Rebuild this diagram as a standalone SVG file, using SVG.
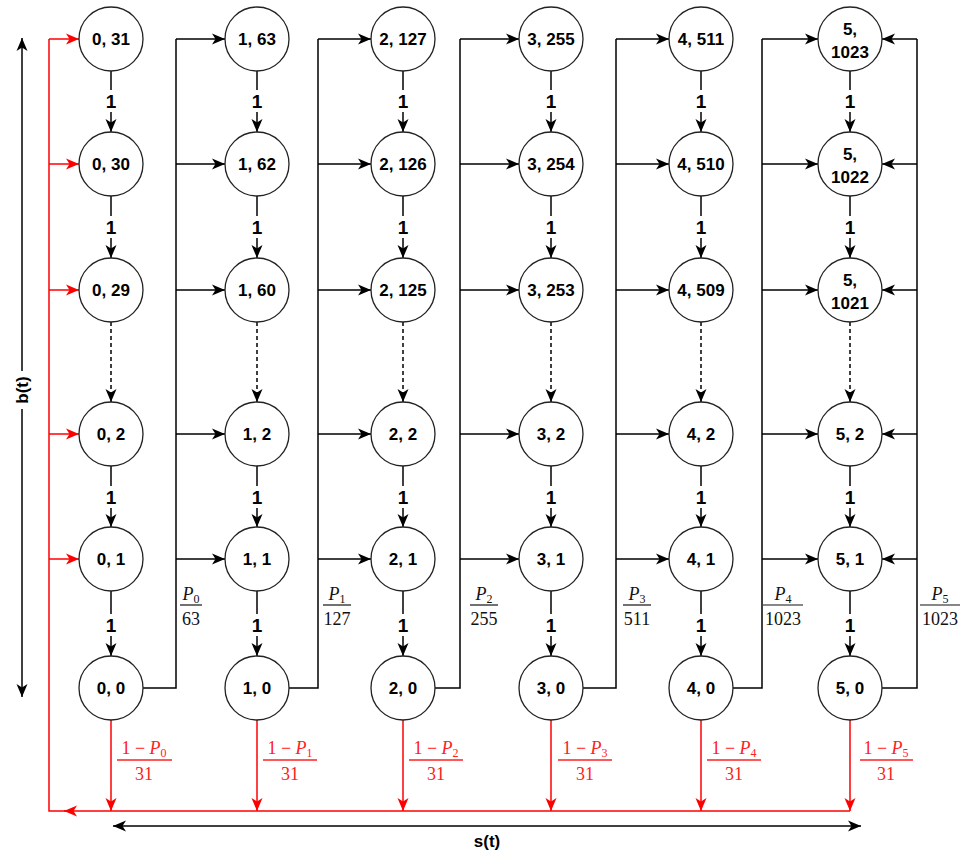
<svg xmlns="http://www.w3.org/2000/svg" width="961" height="854" viewBox="0 0 961 854">
<defs>
<marker id="ab" markerUnits="userSpaceOnUse" markerWidth="14" markerHeight="12" viewBox="0 0 14 12" refX="13" refY="6" orient="auto"><path d="M0,0.5 L13,6 L0,11.5 L3.5,6 Z" fill="#000"/></marker>
<marker id="ar" markerUnits="userSpaceOnUse" markerWidth="14" markerHeight="12" viewBox="0 0 14 12" refX="13" refY="6" orient="auto"><path d="M0,0.5 L13,6 L0,11.5 L3.5,6 Z" fill="#ff0000"/></marker>
<marker id="abs" markerUnits="userSpaceOnUse" markerWidth="14" markerHeight="12" viewBox="0 0 14 12" refX="1" refY="6" orient="auto"><path d="M14,0.5 L1,6 L14,11.5 L10.5,6 Z" fill="#000"/></marker>
</defs>
<style>
.c{fill:#fff;stroke:#222;stroke-width:1.3}
.t{font-family:"Liberation Sans",Arial,sans-serif;font-weight:bold;font-size:17px;fill:#000;text-anchor:middle}
.one{font-family:"Liberation Sans",Arial,sans-serif;font-weight:bold;font-size:19px;fill:#000;text-anchor:middle}
.e{fill:none;stroke:#000;stroke-width:1.5}
.ea{fill:none;stroke:#000;stroke-width:1.5;marker-end:url(#ab)}
.ed{fill:none;stroke:#000;stroke-width:1.5;stroke-dasharray:4 3;marker-end:url(#ab)}
.r{fill:none;stroke:#ff0000;stroke-width:1.5}
.ra{fill:none;stroke:#ff0000;stroke-width:1.5;marker-end:url(#ar)}
.f{font-family:"Liberation Serif","Times New Roman",serif;font-size:18px;fill:#111;text-anchor:middle}
.fr{font-family:"Liberation Serif","Times New Roman",serif;font-size:18px;fill:#ff2020;text-anchor:middle}
.bar{stroke:#111;stroke-width:1.2}
.barr{stroke:#ff2020;stroke-width:1.5}
.ax{font-family:"Liberation Sans",Arial,sans-serif;font-weight:bold;font-size:17px;fill:#000;text-anchor:middle}
</style>

<g id="connectors">
<!-- vertical edges within columns -->
<g id="vertical-edges">
<path class="ea" d="M111,71 V132"/><path class="ea" d="M111,196 V258"/><path class="ed" d="M111,322 V402"/><path class="ea" d="M111,466 V527"/><path class="ea" d="M111,591 V656"/>
<path class="ea" d="M257,71 V132"/><path class="ea" d="M257,196 V258"/><path class="ed" d="M257,322 V402"/><path class="ea" d="M257,466 V527"/><path class="ea" d="M257,591 V656"/>
<path class="ea" d="M403,71 V132"/><path class="ea" d="M403,196 V258"/><path class="ed" d="M403,322 V402"/><path class="ea" d="M403,466 V527"/><path class="ea" d="M403,591 V656"/>
<path class="ea" d="M551,71 V132"/><path class="ea" d="M551,196 V258"/><path class="ed" d="M551,322 V402"/><path class="ea" d="M551,466 V527"/><path class="ea" d="M551,591 V656"/>
<path class="ea" d="M701,71 V132"/><path class="ea" d="M701,196 V258"/><path class="ed" d="M701,322 V402"/><path class="ea" d="M701,466 V527"/><path class="ea" d="M701,591 V656"/>
<path class="ea" d="M850,71 V132"/><path class="ea" d="M850,196 V258"/><path class="ed" d="M850,322 V402"/><path class="ea" d="M850,466 V527"/><path class="ea" d="M850,591 V656"/>
</g>
<g id="one-labels">
<rect x="102" y="90" width="18" height="22" fill="#fff"/><text class="one" x="111" y="108">1</text>
<rect x="102" y="216" width="18" height="22" fill="#fff"/><text class="one" x="111" y="234">1</text>
<rect x="102" y="486" width="18" height="22" fill="#fff"/><text class="one" x="111" y="504">1</text>
<rect x="102" y="614" width="18" height="22" fill="#fff"/><text class="one" x="111" y="632">1</text>
<rect x="248" y="90" width="18" height="22" fill="#fff"/><text class="one" x="257" y="108">1</text>
<rect x="248" y="216" width="18" height="22" fill="#fff"/><text class="one" x="257" y="234">1</text>
<rect x="248" y="486" width="18" height="22" fill="#fff"/><text class="one" x="257" y="504">1</text>
<rect x="248" y="614" width="18" height="22" fill="#fff"/><text class="one" x="257" y="632">1</text>
<rect x="394" y="90" width="18" height="22" fill="#fff"/><text class="one" x="403" y="108">1</text>
<rect x="394" y="216" width="18" height="22" fill="#fff"/><text class="one" x="403" y="234">1</text>
<rect x="394" y="486" width="18" height="22" fill="#fff"/><text class="one" x="403" y="504">1</text>
<rect x="394" y="614" width="18" height="22" fill="#fff"/><text class="one" x="403" y="632">1</text>
<rect x="542" y="90" width="18" height="22" fill="#fff"/><text class="one" x="551" y="108">1</text>
<rect x="542" y="216" width="18" height="22" fill="#fff"/><text class="one" x="551" y="234">1</text>
<rect x="542" y="486" width="18" height="22" fill="#fff"/><text class="one" x="551" y="504">1</text>
<rect x="542" y="614" width="18" height="22" fill="#fff"/><text class="one" x="551" y="632">1</text>
<rect x="692" y="90" width="18" height="22" fill="#fff"/><text class="one" x="701" y="108">1</text>
<rect x="692" y="216" width="18" height="22" fill="#fff"/><text class="one" x="701" y="234">1</text>
<rect x="692" y="486" width="18" height="22" fill="#fff"/><text class="one" x="701" y="504">1</text>
<rect x="692" y="614" width="18" height="22" fill="#fff"/><text class="one" x="701" y="632">1</text>
<rect x="841" y="90" width="18" height="22" fill="#fff"/><text class="one" x="850" y="108">1</text>
<rect x="841" y="216" width="18" height="22" fill="#fff"/><text class="one" x="850" y="234">1</text>
<rect x="841" y="486" width="18" height="22" fill="#fff"/><text class="one" x="850" y="504">1</text>
<rect x="841" y="614" width="18" height="22" fill="#fff"/><text class="one" x="850" y="632">1</text>
</g>

<!-- success buses -->
<g id="bus-edges">
<path class="e" d="M143,688 H176 V39"/>
<path class="ea" d="M176,39 H225"/><path class="ea" d="M176,164 H225"/><path class="ea" d="M176,290 H225"/><path class="ea" d="M176,434 H225"/><path class="ea" d="M176,559 H225"/>
<path class="e" d="M289,688 H318 V39"/>
<path class="ea" d="M318,39 H371"/><path class="ea" d="M318,164 H371"/><path class="ea" d="M318,290 H371"/><path class="ea" d="M318,434 H371"/><path class="ea" d="M318,559 H371"/>
<path class="e" d="M435,688 H460 V39"/>
<path class="ea" d="M460,39 H519"/><path class="ea" d="M460,164 H519"/><path class="ea" d="M460,290 H519"/><path class="ea" d="M460,434 H519"/><path class="ea" d="M460,559 H519"/>
<path class="e" d="M583,688 H616 V39"/>
<path class="ea" d="M616,39 H669"/><path class="ea" d="M616,164 H669"/><path class="ea" d="M616,290 H669"/><path class="ea" d="M616,434 H669"/><path class="ea" d="M616,559 H669"/>
<path class="e" d="M733,688 H762 V39"/>
<path class="ea" d="M762,39 H818"/><path class="ea" d="M762,164 H818"/><path class="ea" d="M762,290 H818"/><path class="ea" d="M762,434 H818"/><path class="ea" d="M762,559 H818"/>
<path class="e" d="M882,688 H917 V39"/>
<path class="ea" d="M917,39 H882"/><path class="ea" d="M917,164 H882"/><path class="ea" d="M917,290 H882"/><path class="ea" d="M917,434 H882"/><path class="ea" d="M917,559 H882"/>
</g>

<!-- failure (red) -->
<g id="red-edges">
<path class="ra" d="M111,720 V811"/><path class="ra" d="M257,720 V811"/><path class="ra" d="M403,720 V811"/><path class="ra" d="M551,720 V811"/><path class="ra" d="M701,720 V811"/><path class="ra" d="M850,720 V811"/>
<path class="ra" d="M850,811 H64"/>
<path class="r" d="M66,811 H49 V39"/>
<path class="ra" d="M49,39 H79"/><path class="ra" d="M49,164 H79"/><path class="ra" d="M49,290 H79"/><path class="ra" d="M49,434 H79"/><path class="ra" d="M49,559 H79"/>
</g>

<!-- probability labels -->
<g id="prob-labels">
<text class="f" x="191" y="600"><tspan font-style="italic">P</tspan><tspan font-size="12" dy="3">0</tspan></text>
<line class="bar" x1="180" y1="605" x2="202" y2="605"/>
<text class="f" x="191" y="625">63</text>
<text class="f" x="337" y="600"><tspan font-style="italic">P</tspan><tspan font-size="12" dy="3">1</tspan></text>
<line class="bar" x1="323" y1="605" x2="351" y2="605"/>
<text class="f" x="337" y="625">127</text>
<text class="f" x="484" y="600"><tspan font-style="italic">P</tspan><tspan font-size="12" dy="3">2</tspan></text>
<line class="bar" x1="470" y1="605" x2="498" y2="605"/>
<text class="f" x="484" y="625">255</text>
<text class="f" x="637" y="600"><tspan font-style="italic">P</tspan><tspan font-size="12" dy="3">3</tspan></text>
<line class="bar" x1="623" y1="605" x2="651" y2="605"/>
<text class="f" x="637" y="625">511</text>
<text class="f" x="783" y="600"><tspan font-style="italic">P</tspan><tspan font-size="12" dy="3">4</tspan></text>
<line class="bar" x1="763" y1="605" x2="803" y2="605"/>
<text class="f" x="783" y="625">1023</text>
<text class="f" x="940" y="600"><tspan font-style="italic">P</tspan><tspan font-size="12" dy="3">5</tspan></text>
<line class="bar" x1="920" y1="605" x2="960" y2="605"/>
<text class="f" x="940" y="625">1023</text>

<text class="fr" x="144" y="754">1 − <tspan font-style="italic">P</tspan><tspan font-size="12" dy="3">0</tspan></text>
<line class="barr" x1="117" y1="760" x2="172" y2="760"/>
<text class="fr" x="144" y="780">31</text>
<text class="fr" x="290" y="754">1 − <tspan font-style="italic">P</tspan><tspan font-size="12" dy="3">1</tspan></text>
<line class="barr" x1="263" y1="760" x2="317" y2="760"/>
<text class="fr" x="290" y="780">31</text>
<text class="fr" x="436" y="754">1 − <tspan font-style="italic">P</tspan><tspan font-size="12" dy="3">2</tspan></text>
<line class="barr" x1="409" y1="760" x2="463" y2="760"/>
<text class="fr" x="436" y="780">31</text>
<text class="fr" x="585" y="754">1 − <tspan font-style="italic">P</tspan><tspan font-size="12" dy="3">3</tspan></text>
<line class="barr" x1="558" y1="760" x2="612" y2="760"/>
<text class="fr" x="585" y="780">31</text>
<text class="fr" x="734" y="754">1 − <tspan font-style="italic">P</tspan><tspan font-size="12" dy="3">4</tspan></text>
<line class="barr" x1="707" y1="760" x2="761" y2="760"/>
<text class="fr" x="734" y="780">31</text>
<text class="fr" x="886" y="754">1 − <tspan font-style="italic">P</tspan><tspan font-size="12" dy="3">5</tspan></text>
<line class="barr" x1="860" y1="760" x2="913" y2="760"/>
<text class="fr" x="886" y="780">31</text>
</g>

<!-- axes -->
<g id="axes">
<path class="e" d="M22,38 V697" marker-start="url(#abs)" marker-end="url(#ab)"/>
<rect x="12" y="371" width="20" height="38" fill="#fff"/>
<text class="ax" transform="translate(28,390) rotate(-90)">b(t)</text>
<path class="e" d="M113,826 H861" marker-start="url(#abs)" marker-end="url(#ab)"/>
<text class="ax" x="487" y="847">s(t)</text>
</g>
</g>

<!-- nodes -->
<g id="n0_31"><circle class="c" cx="111" cy="39" r="32"/><text class="t" x="111" y="45">0, 31</text></g>
<g id="n0_30"><circle class="c" cx="111" cy="164" r="32"/><text class="t" x="111" y="170">0, 30</text></g>
<g id="n0_29"><circle class="c" cx="111" cy="290" r="32"/><text class="t" x="111" y="296">0, 29</text></g>
<g id="n0_2"><circle class="c" cx="111" cy="434" r="32"/><text class="t" x="111" y="440">0, 2</text></g>
<g id="n0_1"><circle class="c" cx="111" cy="559" r="32"/><text class="t" x="111" y="565">0, 1</text></g>
<g id="n0_0"><circle class="c" cx="111" cy="688" r="32"/><text class="t" x="111" y="694">0, 0</text></g>

<g id="n1_63"><circle class="c" cx="257" cy="39" r="32"/><text class="t" x="257" y="45">1, 63</text></g>
<g id="n1_62"><circle class="c" cx="257" cy="164" r="32"/><text class="t" x="257" y="170">1, 62</text></g>
<g id="n1_60"><circle class="c" cx="257" cy="290" r="32"/><text class="t" x="257" y="296">1, 60</text></g>
<g id="n1_2"><circle class="c" cx="257" cy="434" r="32"/><text class="t" x="257" y="440">1, 2</text></g>
<g id="n1_1"><circle class="c" cx="257" cy="559" r="32"/><text class="t" x="257" y="565">1, 1</text></g>
<g id="n1_0"><circle class="c" cx="257" cy="688" r="32"/><text class="t" x="257" y="694">1, 0</text></g>

<g id="n2_127"><circle class="c" cx="403" cy="39" r="32"/><text class="t" x="403" y="45">2, 127</text></g>
<g id="n2_126"><circle class="c" cx="403" cy="164" r="32"/><text class="t" x="403" y="170">2, 126</text></g>
<g id="n2_125"><circle class="c" cx="403" cy="290" r="32"/><text class="t" x="403" y="296">2, 125</text></g>
<g id="n2_2"><circle class="c" cx="403" cy="434" r="32"/><text class="t" x="403" y="440">2, 2</text></g>
<g id="n2_1"><circle class="c" cx="403" cy="559" r="32"/><text class="t" x="403" y="565">2, 1</text></g>
<g id="n2_0"><circle class="c" cx="403" cy="688" r="32"/><text class="t" x="403" y="694">2, 0</text></g>

<g id="n3_255"><circle class="c" cx="551" cy="39" r="32"/><text class="t" x="551" y="45">3, 255</text></g>
<g id="n3_254"><circle class="c" cx="551" cy="164" r="32"/><text class="t" x="551" y="170">3, 254</text></g>
<g id="n3_253"><circle class="c" cx="551" cy="290" r="32"/><text class="t" x="551" y="296">3, 253</text></g>
<g id="n3_2"><circle class="c" cx="551" cy="434" r="32"/><text class="t" x="551" y="440">3, 2</text></g>
<g id="n3_1"><circle class="c" cx="551" cy="559" r="32"/><text class="t" x="551" y="565">3, 1</text></g>
<g id="n3_0"><circle class="c" cx="551" cy="688" r="32"/><text class="t" x="551" y="694">3, 0</text></g>

<g id="n4_511"><circle class="c" cx="701" cy="39" r="32"/><text class="t" x="701" y="45">4, 511</text></g>
<g id="n4_510"><circle class="c" cx="701" cy="164" r="32"/><text class="t" x="701" y="170">4, 510</text></g>
<g id="n4_509"><circle class="c" cx="701" cy="290" r="32"/><text class="t" x="701" y="296">4, 509</text></g>
<g id="n4_2"><circle class="c" cx="701" cy="434" r="32"/><text class="t" x="701" y="440">4, 2</text></g>
<g id="n4_1"><circle class="c" cx="701" cy="559" r="32"/><text class="t" x="701" y="565">4, 1</text></g>
<g id="n4_0"><circle class="c" cx="701" cy="688" r="32"/><text class="t" x="701" y="694">4, 0</text></g>

<g id="n5_1023"><circle class="c" cx="850" cy="39" r="32"/><text class="t" x="850" y="35">5,</text><text class="t" x="850" y="58">1023</text></g>
<g id="n5_1022"><circle class="c" cx="850" cy="164" r="32"/><text class="t" x="850" y="160">5,</text><text class="t" x="850" y="183">1022</text></g>
<g id="n5_1021"><circle class="c" cx="850" cy="290" r="32"/><text class="t" x="850" y="286">5,</text><text class="t" x="850" y="309">1021</text></g>
<g id="n5_2"><circle class="c" cx="850" cy="434" r="32"/><text class="t" x="850" y="440">5, 2</text></g>
<g id="n5_1"><circle class="c" cx="850" cy="559" r="32"/><text class="t" x="850" y="565">5, 1</text></g>
<g id="n5_0"><circle class="c" cx="850" cy="688" r="32"/><text class="t" x="850" y="694">5, 0</text></g>
</svg>
